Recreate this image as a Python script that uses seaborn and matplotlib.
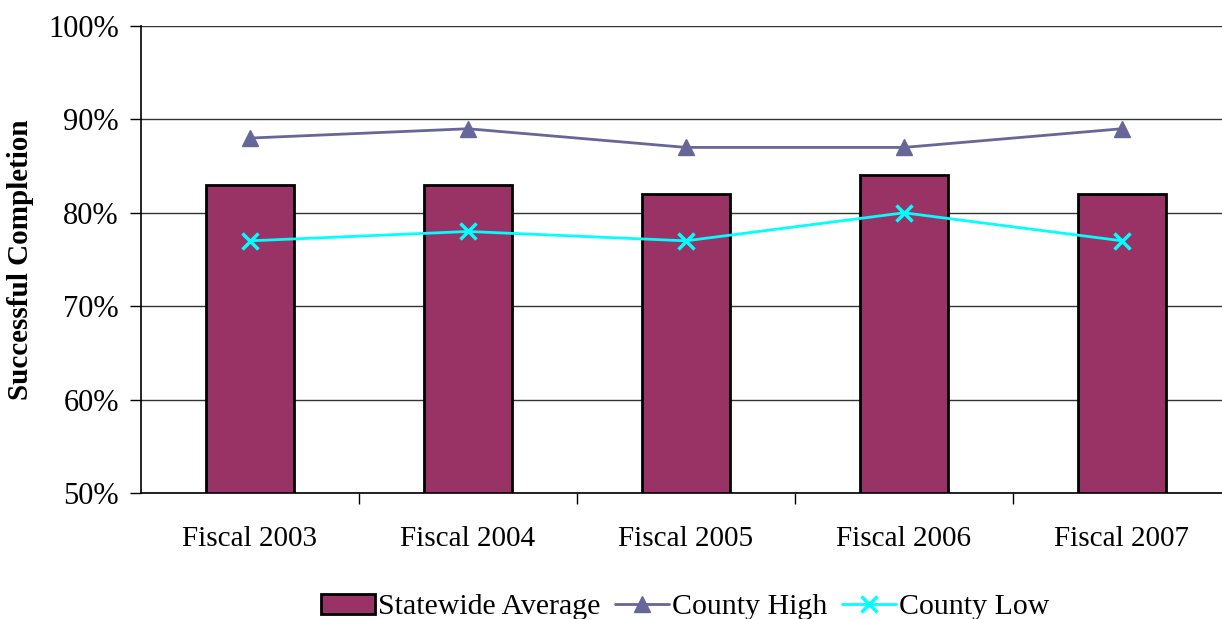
import matplotlib
matplotlib.use("Agg")
import matplotlib.pyplot as plt
import seaborn as sns
import pandas as pd
from matplotlib.ticker import FuncFormatter, FixedLocator

# Successful completion rates by fiscal year
categories = ["Fiscal 2003", "Fiscal 2004", "Fiscal 2005", "Fiscal 2006", "Fiscal 2007"]
statewide_average = [83, 83, 82, 84, 82]
county_high = [88, 89, 87, 87, 89]
county_low = [77, 78, 77, 80, 77]

sns.set_theme(style="white")
plt.rcParams["font.family"] = ["Liberation Serif", "DejaVu Serif"]
plt.rcParams["text.color"] = "black"
plt.rcParams["axes.labelcolor"] = "black"
plt.rcParams["xtick.color"] = "black"
plt.rcParams["ytick.color"] = "black"

df = pd.DataFrame({
    "Year": categories,
    "Statewide Average": statewide_average,
    "County High": county_high,
    "County Low": county_low,
})

fig = plt.figure(figsize=(12.22, 6.19), dpi=100)
ax = fig.add_axes([141 / 1222, 1 - 493 / 619, 1090 / 1222, (493 - 26) / 619])

sns.barplot(data=df, x="Year", y="Statewide Average", color="#993366",
            saturation=1, width=0.4, edgecolor="black", linewidth=2,
            ax=ax, label="Statewide Average", zorder=2)
if ax.get_legend() is not None:
    ax.get_legend().remove()
xs = range(len(categories))
ax.plot(xs, df["County High"], color="#666699", lw=2, marker="^", ms=11,
        label="County High", zorder=3)
ax.plot(xs, df["County Low"], color="#00FFFF", lw=2, marker="x", ms=12,
        mew=2.5, label="County Low", zorder=3)

ax.set_xlim(-0.5, 4.5)
ax.set_ylim(50, 100)
ax.yaxis.set_major_locator(FixedLocator([50, 60, 70, 80, 90, 100]))
ax.yaxis.set_major_formatter(FuncFormatter(lambda v, p: f"{v:.0f}%"))
ax.grid(axis="y", color="#333333", lw=1, zorder=0)
ax.set_axisbelow(True)

ax.xaxis.set_minor_locator(FixedLocator([0.5, 1.5, 2.5, 3.5]))
ax.tick_params(axis="x", which="major", length=0, pad=24, labelsize=21)
ax.tick_params(axis="x", which="minor", bottom=True, length=8, width=1, color="black")
ax.tick_params(axis="y", left=True, length=8, width=1, color="black", labelsize=22, pad=8)

for side in ["top", "right"]:
    ax.spines[side].set_visible(False)
for side in ["left", "bottom"]:
    ax.spines[side].set_color("black")
    ax.spines[side].set_linewidth(1.2)

ax.set_xlabel("")
ax.set_ylabel("Successful Completion", fontsize=21, fontweight="bold", labelpad=10)

handles, labels = ax.get_legend_handles_labels()
order = [labels.index(n) for n in ["Statewide Average", "County High", "County Low"]]
leg = fig.legend([handles[i] for i in order], [labels[i] for i in order],
                 loc="center", bbox_to_anchor=(685 / 1222, 1 - 607 / 619),
                 ncol=3, frameon=False, fontsize=21.5, handlelength=1.8,
                 handletextpad=0.1, columnspacing=0.5)

fig.savefig("out.png", dpi=100)
